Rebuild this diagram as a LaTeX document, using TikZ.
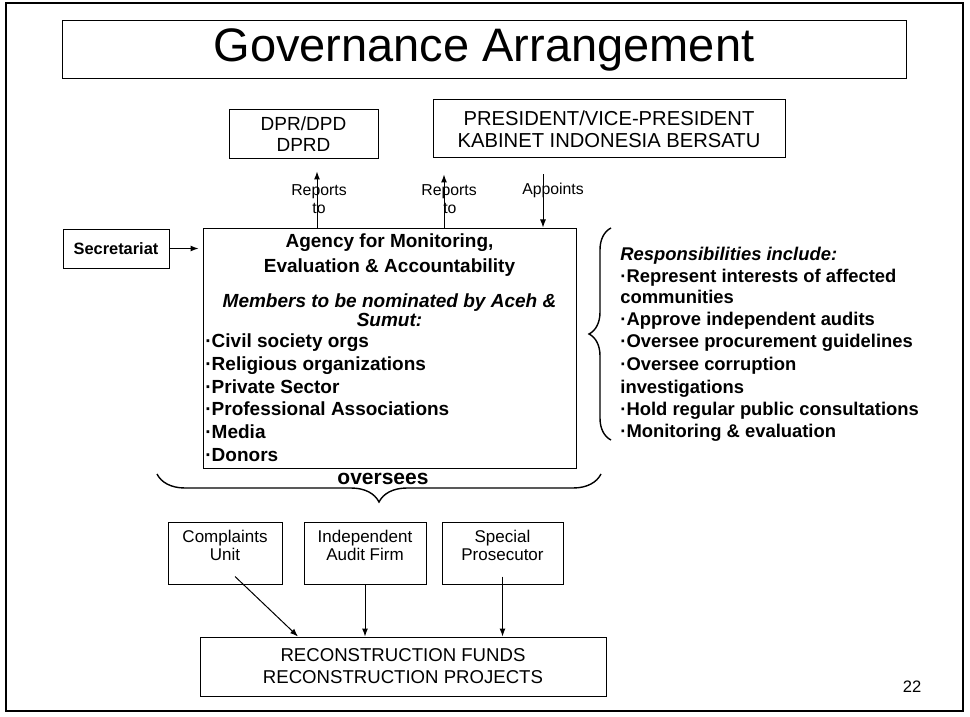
\documentclass[tikz,border=0pt]{standalone}
\usepackage{fontspec}
\setmainfont{Liberation Sans}
\usetikzlibrary{arrows.meta,decorations.pathreplacing}

\begin{document}
\begin{tikzpicture}[x=0.5pt,y=-0.5pt,
    bx/.style={draw,line width=0.5pt,inner sep=0pt},
    arr/.style={line width=0.5pt,-{Latex[length=4pt,width=3pt]}},
    brc/.style={decorate,decoration={brace,amplitude=#1},line width=0.7pt},
    lbl/.style={font=\fontsize{7.9}{9}\selectfont,align=center,inner sep=0pt},
    bt/.style={font=\bfseries\fontsize{9.5}{11}\selectfont,inner sep=0pt,text height=7pt,text depth=2pt},
    rt/.style={font=\bfseries\fontsize{9.2}{11}\selectfont,inner sep=0pt,text height=7pt,text depth=2pt,anchor=west},
    sm/.style={font=\fontsize{8.5}{9}\selectfont,align=center,inner sep=0pt},
  ]
  \useasboundingbox (0,0) rectangle (970,717);
  \draw[line width=1pt] (6,3) rectangle (963,711);
  % title and top boxes
  \node[bx,minimum width=422pt,minimum height=29pt,font=\fontsize{23.5}{28}\selectfont] (title) at (484,50) {Governance Arrangement};
  \node[bx,minimum width=74.5pt,minimum height=24.5pt,align=center,font=\fontsize{9.5}{10.5}\selectfont] (dpr) at (303.5,134.5) {DPR/DPD\\DPRD};
  \node[bx,minimum width=176pt,minimum height=29pt,align=center,font=\fontsize{10.1}{11}\selectfont] (pres) at (609,129) {PRESIDENT/VICE-PRESIDENT\\KABINET INDONESIA BERSATU};
  \node[bx,minimum width=53pt,minimum height=19.5pt,font=\bfseries\fontsize{8.2}{9}\selectfont] (sec) at (116,248.5) {Secretariat};
  % agency
  \node[bx,minimum width=186.5pt,minimum height=120pt] (agency) at (389.5,348) {};
  \node[bt] (ag1) at (389.5,243) {Agency for Monitoring,};
  \node[bt] (ag2) at (389.5,267) {Evaluation \& Accountability};
  \node[bt,font=\bfseries\itshape\fontsize{9.5}{11}\selectfont] (ag3) at (389.5,302) {Members to be nominated by Aceh \&};
  \node[bt,font=\bfseries\itshape\fontsize{9.5}{11}\selectfont] (ag4) at (389.5,321) {Sumut:};
  \foreach \y/\txt [count=\i] in {342/Civil society orgs, 365/Religious organizations, 388/Private Sector,
      410/Professional Associations, 433/Media, 456/Donors}
    \node[bt,anchor=west] (mb\i) at (205,\y) {·\txt};
  % links to the top
  \coordinate (r1) at (317,0);
  \coordinate (r2) at (444,0);
  \coordinate (ap) at (543,0);
  \draw[arr] (r1 |- agency.north) -- ([yshift=-6pt]r1 |- dpr.south);
  \draw[arr] (r2 |- agency.north) -- ([yshift=-8pt]r2 |- pres.south);
  \draw[arr] ([yshift=-8pt]ap |- pres.south) -- (ap |- agency.north);
  \node[lbl] (rep1) at (319,199) {Reports\\to};
  \node[lbl,align=left] (rep2) at (449,199) {Reports\\\hspace*{11pt}to};
  \node[lbl] (appt) at (553,190) {Appoints};
  \draw[arr,shorten >=2pt] (sec.east) -- (agency.west |- sec.east);
  % responsibilities
  \draw[brc=11pt] (611,440) -- (611,228);
  \node[rt,font=\bfseries\itshape\fontsize{9.2}{11}\selectfont] (resp) at (620,255) {Responsibilities include:};
  \foreach \y/\txt [count=\i] in {277/·Represent interests of affected, 298/communities,
      320/·Approve independent audits, 342/·Oversee procurement guidelines, 365/·Oversee corruption,
      388/investigations, 410/·Hold regular public consultations, 432/·Monitoring \& evaluation}
    \node[rt] (resp\i) at (620,\y) {\txt};
  % oversees
  \draw[brc=14pt] (601,474) -- (157,474);
  \node[font=\bfseries\fontsize{10.5}{12}\selectfont,inner sep=0pt] (ovs) at (383,479) {oversees};
  \foreach \n/\x/\w/\txt in {comp/225/57pt/{Complaints\\Unit}, audit/365/61pt/{Independent\\Audit Firm},
      pros/502.5/60.5pt/{Special\\Prosecutor}}{
    \node[bx,minimum width=\w,minimum height=31pt] (\n) at (\x,553) {};
    \node[sm] (t\n) at ([yshift=3.75pt]\n.center) {\txt};
  }
  \node[bx,minimum width=203pt,minimum height=29.5pt,align=center,font=\fontsize{9.3}{11}\selectfont] (recon) at (403,666.5) {RECONSTRUCTION FUNDS\\RECONSTRUCTION PROJECTS};
  \draw[arr] ([xshift=5pt,yshift=4pt]comp.south) -- ([xshift=-52.5pt]recon.north);
  \draw[arr] (audit.south) -- (audit.south |- recon.north);
  \draw[arr] ([yshift=4pt]pros.south) -- (pros.south |- recon.north);
  \node[font=\fontsize{8.3}{10}\selectfont,inner sep=0pt] (pg) at (912,687) {22};
\end{tikzpicture}
\end{document}
